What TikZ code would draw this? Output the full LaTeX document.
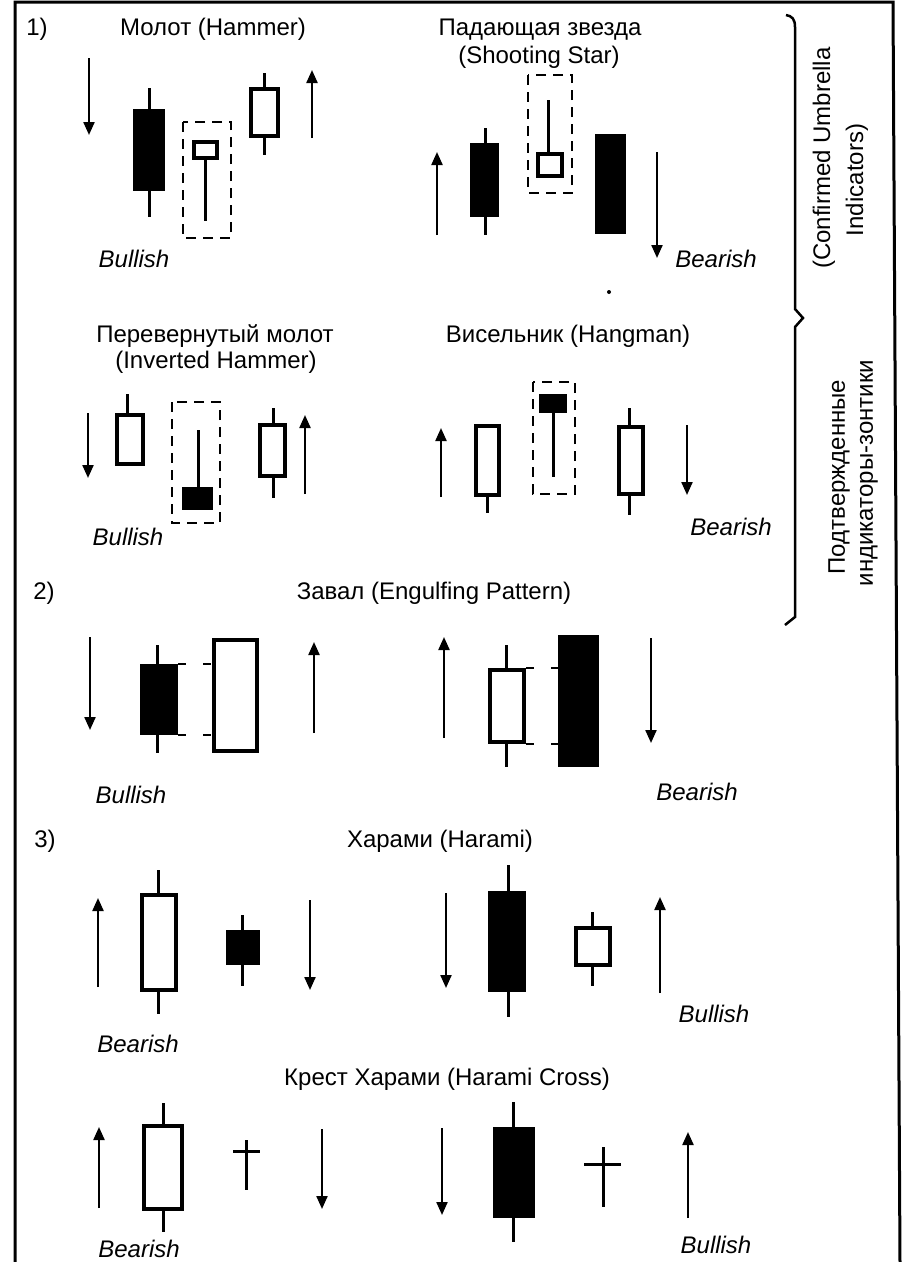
\documentclass[tikz,border=0pt]{standalone}
\usepackage{fontspec}
\setmainfont{Liberation Sans}
\usetikzlibrary{arrows.meta}

\begin{document}
\begin{tikzpicture}[x=1pt,y=-1pt,
        every node/.style={font=\fontsize{24}{28}\selectfont},
        verdict/.style={anchor=base,font=\fontsize{24}{28}\selectfont\itshape},
        title/.style={anchor=base},
        side/.style={rotate=90},
        trend/.style={line width=2.2pt,-{Triangle[width=11pt,length=13pt]}},
        wick/.style={line width=3pt},
        hollow/.style={draw,line width=3.5pt,fill=white},
        zone/.style={line width=2.5pt,dash pattern=on 10pt off 7pt},
        link/.style={line width=2.5pt,dash pattern=on 8pt off 17pt}]
        \useasboundingbox (0,0) rectangle (907,1262);
        % Frame
            \draw[line width=3pt] (15,1262) -- (15,2) -- (893,2) -- (900,1262);
        % Titles
            \node[title] (n1) at (37,35) {1)};
            \node[title] (hammer) at (213,35) {Молот (Hammer)};
            \node[title] (star) at (540,35) {Падающая звезда};
            \node[title] (starEn) at (539,63) {(Shooting Star)};
            \node[title] (inv) at (215,342) {Перевернутый молот};
            \node[title] (invEn) at (216,368) {(Inverted Hammer)};
            \node[title] (hang) at (568,342) {Висельник (Hangman)};
            \node[title] (n2) at (44,599) {2)};
            \node[title] (engulf) at (434,599) {Завал (Engulfing Pattern)};
            \node[title] (n3) at (45,847) {3)};
            \node[title] (harami) at (440,847) {Харами (Harami)};
            \node[title] (cross) at (447,1085) {Крест Харами (Harami Cross)};
        % Side labels
            \node[side] (umbA) at (824,158) {(Confirmed Umbrella};
            \node[side] (umbB) at (857,180) {Indicators)};
            \node[side] (zonA) at (839,477) {Подтвержденные};
            \node[side] (zonB) at (869,473) {индикаторы-зонтики};
            \draw[line width=2.5pt] (786,15) .. controls (792,16) and (795,19) .. (795,27)
                -- (795,309) -- (803,318) -- (795,327) -- (795,617) -- (785,625); % }
        % Hammer
            \draw[trend] (89,58) -- (89,135);
            \draw[wick] (149,88) -- (149,217);
            \fill (133,109) rectangle (165,191);
            \draw[zone] (183,122) rectangle (231,238);
            \draw[wick] (205,160) -- (205,221);
            \draw[hollow] (194,142) rectangle (217,158);
            \draw[wick] (264,73) -- (264,155);
            \draw[hollow] (251,89) rectangle (278,136);
            \draw[trend] (312,138) -- (312,70);
            \node[verdict] (bull1) at (134,267) {Bullish};
        % Shooting star
            \draw[trend] (437,235) -- (437,152);
            \draw[wick] (485,128) -- (485,235);
            \fill (470,143) rectangle (499,217);
            \draw[zone] (528,75) rectangle (572,193);
            \draw[wick] (548,100) -- (548,152);
            \draw[hollow] (538,154) rectangle (562,176);
            \fill (595,134) rectangle (626,234);
            \draw[trend] (657,152) -- (657,258);
            \fill (609,292) circle (2);
            \node[verdict] (bear1) at (716,267) {Bearish};
        % Inverted hammer
            \draw[trend] (88,413) -- (88,478);
            \draw[wick] (127,394) -- (127,413);
            \draw[hollow] (117,415) rectangle (143,464);
            \draw[zone] (172,402) rectangle (220,523);
            \draw[wick] (198,430) -- (198,490);
            \fill (182,487) rectangle (213,510);
            \draw[wick] (273,408) -- (273,498);
            \draw[hollow] (260,425) rectangle (285,476);
            \draw[trend] (305,494) -- (305,415);
            \node[verdict] (bull2) at (128,545) {Bullish};
        % Hangman
            \draw[trend] (441,497) -- (441,428);
            \draw[wick] (487,490) -- (487,513);
            \draw[hollow] (476,426) rectangle (499,495);
            \draw[zone] (533,382) rectangle (575,494);
            \draw[wick] (553,400) -- (553,477);
            \fill (539,394) rectangle (567,413);
            \draw[wick] (629,408) -- (629,515);
            \draw[hollow] (619,427) rectangle (643,494);
            \draw[trend] (687,425) -- (687,495);
            \node[verdict] (bear2) at (731,535) {Bearish};
        % Engulfing, bullish
            \draw[trend] (90,637) -- (90,730);
            \draw[wick] (157,645) -- (157,753);
            \fill (140,664) rectangle (178,735);
            \draw[link] (178,664) -- (212,664);
            \draw[link] (178,735) -- (212,735);
            \draw[hollow] (214,640) rectangle (257,751);
            \draw[trend] (314,733) -- (314,642);
            \node[verdict] (bull3) at (131,803) {Bullish};
        % Engulfing, bearish
            \draw[trend] (444,738) -- (444,637);
            \draw[wick] (506,645) -- (506,767);
            \draw[hollow] (490,670) rectangle (524,742);
            \draw[link] (526,668) -- (558,668);
            \draw[link] (526,744) -- (558,744);
            \fill (558,635) rectangle (599,767);
            \draw[trend] (651,638) -- (651,743);
            \node[verdict] (bear3) at (697,800) {Bearish};
        % Harami
            \draw[trend] (98,987) -- (98,898);
            \draw[wick] (158,870) -- (158,1014);
            \draw[hollow] (142,895) rectangle (176,990);
            \draw[wick] (242,915) -- (242,986);
            \fill (226,930) rectangle (260,965);
            \draw[trend] (310,900) -- (310,990);
            \node[verdict] (bear4) at (138,1052) {Bearish};
            \draw[trend] (446,893) -- (446,988);
            \draw[wick] (508,865) -- (508,1017);
            \fill (488,891) rectangle (526,992);
            \draw[wick] (592,912) -- (592,986);
            \draw[hollow] (576,928) rectangle (610,965);
            \draw[trend] (660,993) -- (660,897);
            \node[verdict] (bull4) at (714,1022) {Bullish};
        % Harami cross
            \draw[trend] (99,1208) -- (99,1127);
            \draw[wick] (163,1103) -- (163,1232);
            \draw[hollow] (144,1126) rectangle (182,1209);
            \draw[wick] (246,1140) -- (246,1190);
            \draw[wick] (233,1151) -- (260,1151);
            \draw[trend] (322,1129) -- (322,1209);
            \node[verdict] (bear5) at (139,1257) {Bearish};
            \draw[trend] (442,1128) -- (442,1215);
            \draw[wick] (513,1102) -- (513,1242);
            \fill (493,1127) rectangle (535,1218);
            \draw[wick] (603,1147) -- (603,1207);
            \draw[wick] (584,1164) -- (621,1164);
            \draw[trend] (688,1218) -- (688,1132);
            \node[verdict] (bull5) at (716,1253) {Bullish};
\end{tikzpicture}
\end{document}
